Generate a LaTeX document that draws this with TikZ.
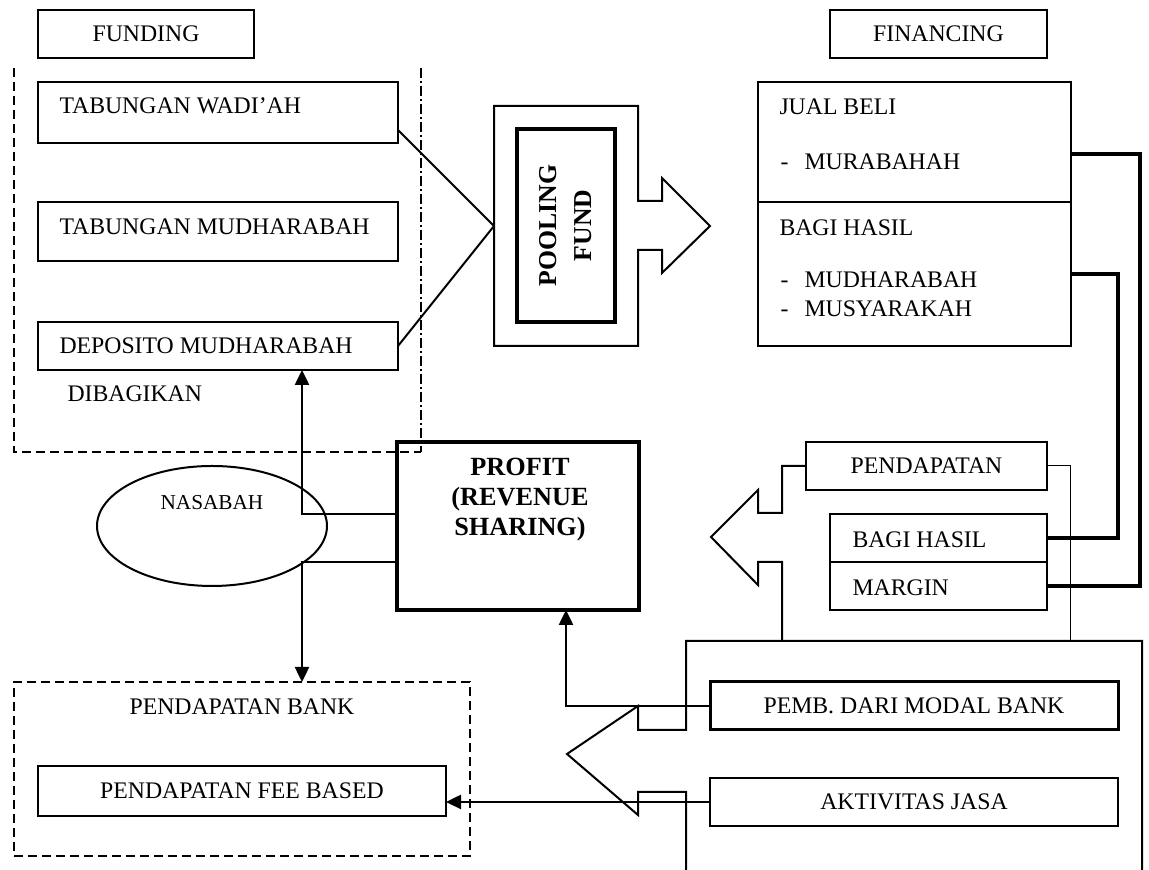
\documentclass[tikz,border=0pt]{standalone}
\usepackage{fontspec}
\setmainfont{Liberation Serif}
\usetikzlibrary{arrows.meta,shapes.geometric,calc}
\begin{document}
\begin{tikzpicture}[x=0.4pt,y=-0.4pt,
  font=\fontsize{9.5}{11}\selectfont,
  ln/.style={line width=0.8pt},
  box/.style={draw,line width=0.8pt,inner sep=0pt,outer sep=0pt,anchor=north west},
  lbl/.style={anchor=west,inner sep=0pt},
  arr/.style={line width=1pt,-{Triangle[length=6pt,width=5.6pt]}},
  heavy/.style={line width=1.5pt},
  thinln/.style={line width=0.4pt},
  dsh/.style={line width=0.8pt,dash pattern=on 3.6pt off 2pt},
  dshdot/.style={line width=0.8pt,dash pattern=on 4pt off 1.2pt on 0.8pt off 1.2pt},
]
\fill[white] (0,0) rectangle (1149,870);
\useasboundingbox (0,0) rectangle (1149,870);

% helper coordinates
\coordinate (vx) at (302,0);
\coordinate (ax) at (566,0);
\coordinate (r1) at (1140,0);
\coordinate (r2) at (1118,0);
\coordinate (pl) at (494,226);
\coordinate (bt) at (1070,641);

% headers
\node[box,minimum width=86.4pt,minimum height=19.2pt] (funding) at (38,10) {FUNDING};
\node[box,minimum width=86.8pt,minimum height=19.2pt] (financing) at (830,10) {FINANCING};

% funding region
\coordinate (fa) at (14,68);
\coordinate (fb) at (14,452);
\coordinate (fc) at (421,452);
\coordinate (fd) at (421,68);
\draw[dsh] (fa) -- (fb) -- (fc);
\draw[dshdot] (fd) -- (fc);

\node[box,minimum width=144pt,minimum height=24.4pt] (tw) at (38,82) {};
\node[lbl] (twt) at (59,106) {TABUNGAN WADI’AH};
\node[box,minimum width=144pt,minimum height=23.6pt] (tm) at (38,202) {};
\node[lbl] (tmt) at (59,227) {TABUNGAN MUDHARABAH};
\node[box,minimum width=144pt,minimum height=19.2pt] (dm) at (38,322) {};
\node[lbl] (dmt) at (59,346) {DEPOSITO MUDHARABAH};
\node[lbl] (dib) at (67,394) {DIBAGIKAN};

% pooling fund
\draw[ln] (494,106) -- (638,106) -- (638,201) -- (662,201) -- (662,178) -- (710,226)
  -- (662,273) -- (662,250) -- (638,250) -- (638,346) -- (494,346) -- cycle;
\node[box,line width=1.5pt,minimum width=39.2pt,minimum height=77.2pt] (pool) at (517,129) {};
\node[rotate=90,align=center,font=\fontsize{10.3}{14}\selectfont\bfseries] (poolt) at (pool.center) {POOLING\\FUND};

\draw[ln] ($(tw.east)+(0,17.5)$) -- (pl);
\draw[ln] (dm.east) -- (pl);

% financing
\node[box,minimum width=125.2pt,minimum height=48pt] (jb) at (758,82) {};
\node[box,minimum width=125.2pt,minimum height=57.6pt] (bh) at (758,202) {};
\node[lbl] (jbt) at (779,107) {JUAL BELI};
\node[lbl] (d1) at (780,162) {-\vphantom{M}};
\node[lbl] (mur) at (804,162) {MURABAHAH};
\node[lbl] (bht) at (779,228) {BAGI HASIL};
\node[lbl] (d2) at (780,280) {-\vphantom{M}};
\node[lbl] (mud) at (804,280) {MUDHARABAH};
\node[lbl] (d3) at (780,309) {-\vphantom{M}};
\node[lbl] (mus) at (804,309) {MUSYARAKAH};

% nasabah
\node[draw,ellipse,line width=0.8pt,minimum width=92pt,minimum height=48pt,inner sep=0pt,outer sep=0pt] (nas) at (212,526) {};
\node[font=\fontsize{8.5}{10}\selectfont] (nast) at (212,503) {NASABAH};

% profit
\node[box,line width=1.6pt,minimum width=96.8pt,minimum height=67.2pt] (profit) at (397,442) {};
\node[align=center,font=\fontsize{10.5}{12}\selectfont\bfseries] (proft) at (520,500) {PROFIT\\(REVENUE\\SHARING)};

% pendapatan bank
\node[box,dsh,minimum width=182.4pt,minimum height=69.6pt] (pb) at (14,682) {};
\node (pbt) at (242,707) {PENDAPATAN BANK};
\node[box,minimum width=163.2pt,minimum height=20pt] (fee) at (38,766) {PENDAPATAN FEE BASED};

\draw[arr] ($(profit.west)+(0,-12)$) -| (dm.south -| vx);
\draw[arr] ($(profit.west)+(0,36)$) -| (pb.north -| vx);

% right side
\node[box,minimum width=96.4pt,minimum height=19.2pt] (pend) at (806,442) {PENDAPATAN};
\node[box,minimum width=86.8pt,minimum height=19.2pt] (bhs) at (830,514) {};
\node[box,minimum width=86.8pt,minimum height=19.2pt] (mg) at (830,562) {};
\node[lbl] (bhst) at (852,540) {BAGI HASIL};
\node[lbl] (mgt) at (852,588) {MARGIN};

\draw[heavy] ($(jb.east)+(0,12)$) -| (r1 |- mg.east) -- (mg.east);
\draw[heavy] (bh.east) -| (r2 |- bhs.east) -- (bhs.east);
\draw[thinln] (pend.east) -| (bt);

\draw[ln] (pend.west) -| (782,513) -- (758,513) -- (758,490) -- (711,537) -- (758,585)
  -- (758,562) -- (782,562) -- (782,641);

\draw[ln] (686,870) -- (686,792) -- (638,792) -- (638,815) -- (567,754) -- (638,706)
  -- (638,730) -- (686,730) -- (686,641) -- (1142,641) -- (1142,870);

\node[box,line width=1.2pt,minimum width=163.2pt,minimum height=19.2pt] (pemb) at (710,682) {PEMB. DARI MODAL BANK};
\node[box,minimum width=163.2pt,minimum height=19.2pt] (akt) at (710,778) {AKTIVITAS JASA};

\draw[arr] (pemb.west) -| (profit.south -| ax);
\draw[arr] (akt.west) -- (akt.west -| fee.east);
\end{tikzpicture}
\end{document}
